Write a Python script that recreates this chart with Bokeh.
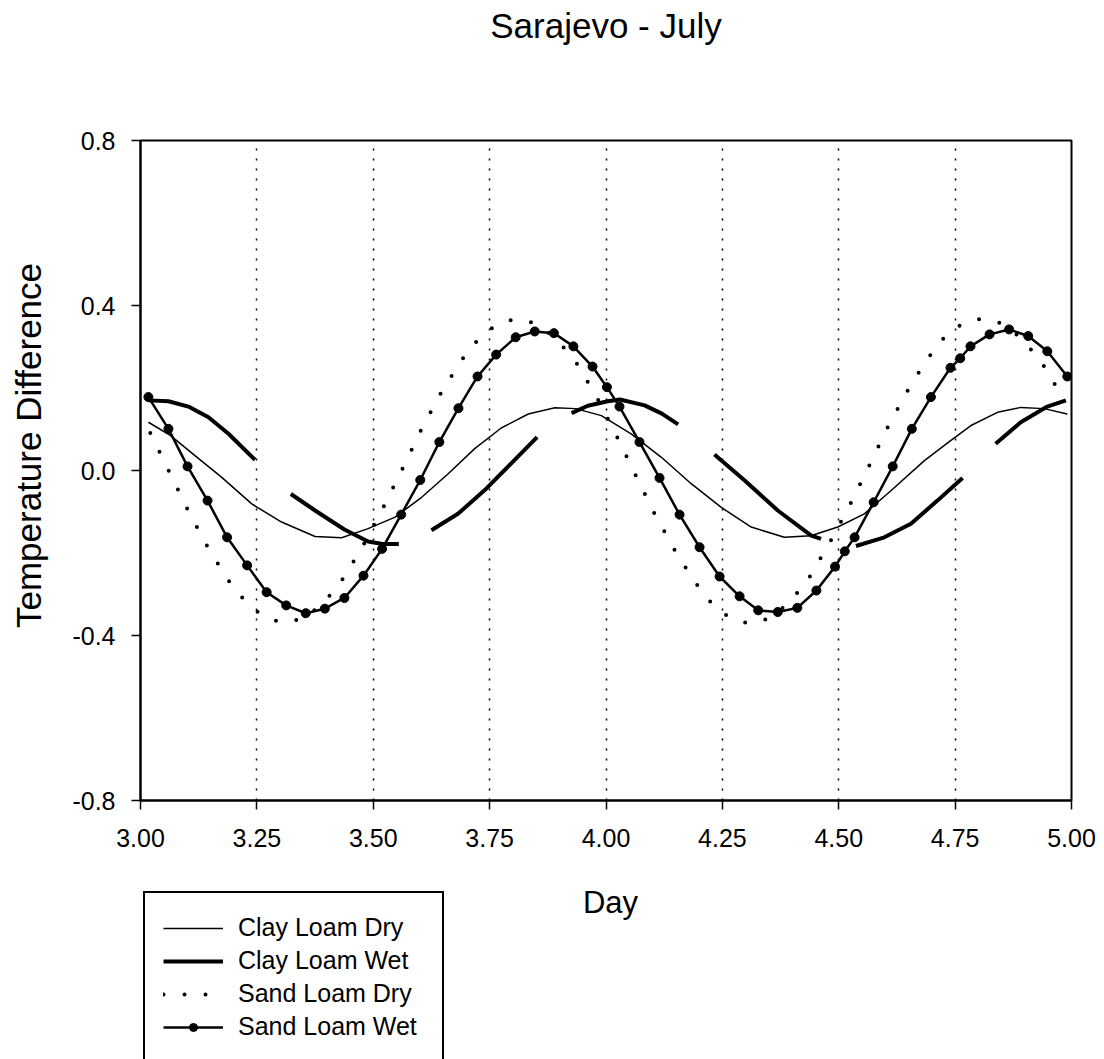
import math

from bokeh.plotting import figure
from bokeh.layouts import column, row
from bokeh.models import (Range1d, FixedTicker, NumeralTickFormatter, Legend, LegendItem,
                          LinearAxis, Label)
from bokeh.embed import file_html
from bokeh.resources import INLINE

nan = float("nan")

# Clay loam, dry soil (thin line)
clay_dry_day = [3.017, 3.064, 3.117, 3.174, 3.239, 3.303, 3.375, 3.432, 3.489, 3.547,
                3.604, 3.661, 3.718, 3.775, 3.833, 3.890, 3.935, 3.990, 4.054, 4.119,
                4.183, 4.247, 4.312, 4.383, 4.440, 4.498, 4.555, 4.612, 4.684, 4.741,
                4.784, 4.841, 4.891, 4.941, 4.991]
clay_dry_val = [0.117, 0.085, 0.036, -0.016, -0.081, -0.125, -0.160, -0.163, -0.141, -0.113,
                -0.065, -0.008, 0.053, 0.103, 0.137, 0.152, 0.150, 0.133, 0.089, 0.032,
                -0.032, -0.089, -0.137, -0.162, -0.158, -0.137, -0.105, -0.049, 0.024, 0.073,
                0.109, 0.141, 0.153, 0.150, 0.137]

# Clay loam, wet soil (thick line, drawn in separate runs)
clay_wet_day = [3.017, 3.060, 3.103, 3.146, 3.189, 3.246, nan,
                3.323, 3.375, 3.438, 3.489, 3.520, 3.555, nan,
                3.625, 3.682, 3.739, 3.797, 3.852, nan,
                3.926, 3.961, 4.004, 4.030, 4.083, 4.120, 4.155, nan,
                4.233, 4.298, 4.369, 4.441, 4.462, nan,
                4.537, 4.598, 4.655, 4.712, 4.766, nan,
                4.837, 4.891, 4.948, 4.988]
clay_wet_val = [0.170, 0.168, 0.155, 0.129, 0.089, 0.026, nan,
                -0.057, -0.097, -0.143, -0.172, -0.178, -0.178, nan,
                -0.145, -0.105, -0.048, 0.018, 0.081, nan,
                0.139, 0.157, 0.168, 0.172, 0.158, 0.138, 0.112, nan,
                0.039, -0.024, -0.097, -0.158, -0.166, nan,
                -0.183, -0.162, -0.129, -0.073, -0.018, nan,
                0.065, 0.117, 0.155, 0.170]

# Sand loam, dry soil (dotted line)
sand_dry_day = [3.021, 3.063, 3.104, 3.146, 3.188, 3.229, 3.271, 3.313, 3.354, 3.396,
                3.438, 3.479, 3.521, 3.563, 3.604, 3.646, 3.688, 3.729, 3.771, 3.813,
                3.854, 3.896, 3.938, 3.979, 4.021, 4.063, 4.104, 4.146, 4.188, 4.229,
                4.271, 4.313, 4.354, 4.396, 4.438, 4.479, 4.521, 4.563, 4.604, 4.646,
                4.688, 4.729, 4.771, 4.813, 4.854, 4.896, 4.938, 4.979]
sand_dry_val = [0.091, -0.006, -0.101, -0.189, -0.265, -0.323, -0.359, -0.370, -0.356, -0.318,
                -0.258, -0.180, -0.091, 0.005, 0.101, 0.189, 0.265, 0.323, 0.359, 0.368,
                0.354, 0.316, 0.258, 0.180, 0.088, -0.010, -0.104, -0.190, -0.266, -0.325,
                -0.362, -0.372, -0.357, -0.318, -0.257, -0.178, -0.090, 0.006, 0.102, 0.190,
                0.267, 0.326, 0.360, 0.369, 0.355, 0.317, 0.258, 0.181]

# Sand loam, wet soil (line with markers)
sand_wet_day = [3.017, 3.060, 3.101, 3.144, 3.186, 3.229, 3.271, 3.313, 3.355, 3.396,
                3.438, 3.479, 3.519, 3.560, 3.601, 3.642, 3.683, 3.724, 3.764, 3.806,
                3.847, 3.888, 3.930, 3.971, 4.002, 4.029, 4.072, 4.115, 4.158, 4.201,
                4.244, 4.287, 4.327, 4.369, 4.411, 4.452, 4.492, 4.513, 4.534, 4.575,
                4.616, 4.657, 4.698, 4.740, 4.761, 4.783, 4.824, 4.866, 4.907, 4.948,
                4.991]
sand_wet_val = [0.178, 0.101, 0.010, -0.073, -0.162, -0.230, -0.295, -0.327, -0.346, -0.335,
                -0.309, -0.255, -0.190, -0.107, -0.023, 0.069, 0.151, 0.228, 0.281, 0.323,
                0.337, 0.333, 0.301, 0.252, 0.202, 0.155, 0.069, -0.018, -0.107, -0.186,
                -0.257, -0.305, -0.339, -0.343, -0.333, -0.291, -0.233, -0.196, -0.162, -0.077,
                0.010, 0.101, 0.178, 0.249, 0.272, 0.301, 0.330, 0.342, 0.326, 0.289,
                0.228]

series_names = ["Clay Loam Dry", "Clay Loam Wet", "Sand Loam Dry", "Sand Loam Wet"]

x_ticks = [3.0, 3.25, 3.5, 3.75, 4.0, 4.25, 4.5, 4.75, 5.0]
grid_ticks = [3.25, 3.5, 3.75, 4.0, 4.25, 4.5, 4.75]
y_ticks = [-0.8, -0.4, 0.0, 0.4, 0.8]

FONT = "Liberation Sans"

# line styles shared by the chart and the key
STYLE_CLAY_DRY = dict(line_color="black", line_width=1.5)
STYLE_CLAY_WET = dict(line_color="black", line_width=4)
STYLE_SAND_DRY = dict(line_color="black", line_width=4, line_dash="0 21", line_cap="round")
STYLE_SAND_WET = dict(line_color="black", line_width=2.5)
STYLE_SAND_WET_MARK = dict(marker="circle", size=9, fill_color="black", line_color="black")

FRAME_TOP = 140
FRAME_H = 660
TOP_H = 874       # height of the row holding the chart
BOTTOM_H = 185    # strip below it with the x label and the key
YLAB_W = 60       # strip on the left with the y label
LEFT = 140        # left edge of the plotting frame
RIGHT_PAD = 33
FRAME_W = 931
TOTAL_W = LEFT + FRAME_W + RIGHT_PAD


def draw_series(fig):
    fig.line(clay_dry_day, clay_dry_val, **STYLE_CLAY_DRY)
    fig.line(clay_wet_day, clay_wet_val, **STYLE_CLAY_WET)
    fig.line(sand_dry_day, sand_dry_val, **STYLE_SAND_DRY)
    fig.line(sand_wet_day, sand_wet_val, **STYLE_SAND_WET)
    fig.scatter(sand_wet_day, sand_wet_val, **STYLE_SAND_WET_MARK)
    return fig.renderers[-5:]


# ---------------------------------------------------------------- main chart
p = figure(frame_width=FRAME_W, frame_height=FRAME_H,
           min_border_left=LEFT - YLAB_W, min_border_right=RIGHT_PAD,
           min_border_top=FRAME_TOP, min_border_bottom=TOP_H - FRAME_TOP - FRAME_H,
           x_range=Range1d(3.0, 5.0), y_range=Range1d(-0.8, 0.8),
           output_backend="svg", toolbar_location=None)

p.background_fill_color = "white"
p.border_fill_color = "white"
p.outline_line_color = "black"
p.outline_line_width = 2

for ax in (p.xaxis[0], p.yaxis[0]):
    ax.axis_line_width = 2
    ax.axis_line_color = "black"
    ax.major_tick_line_width = 1.5
    ax.major_tick_line_color = "black"
    ax.major_tick_out = 9
    ax.major_tick_in = 0
    ax.minor_tick_out = 0
    ax.minor_tick_in = 0
    ax.major_label_text_font = FONT
    ax.major_label_text_font_size = "25px"
    ax.major_label_text_color = "black"

p.xaxis.ticker = FixedTicker(ticks=x_ticks)
p.xaxis.formatter = NumeralTickFormatter(format="0.00")
p.xaxis.major_label_standoff = 19

p.yaxis.ticker = FixedTicker(ticks=y_ticks)
p.yaxis.formatter = NumeralTickFormatter(format="0.0")
p.yaxis.major_label_standoff = 16

# tickless axis on top that carries the chart heading
head = LinearAxis(ticker=FixedTicker(ticks=[]), axis_label="Sarajevo - July",
                  axis_label_standoff=96, axis_line_color=None,
                  major_tick_line_color=None, minor_tick_line_color=None,
                  major_tick_out=0, major_tick_in=0, minor_tick_out=0, minor_tick_in=0,
                  major_label_standoff=0)
head.axis_label_text_font = FONT
head.axis_label_text_font_size = "35px"
head.axis_label_text_font_style = "normal"
head.axis_label_text_color = "black"
p.add_layout(head, "above")

p.xgrid.ticker = FixedTicker(ticks=grid_ticks)
p.xgrid.grid_line_color = "black"
p.xgrid.grid_line_width = 1.5
p.xgrid.grid_line_dash = "2 8"
p.ygrid.visible = False

draw_series(p)

# ---------------------------------------------------------------- y label strip
# same vertical structure as the chart, so the two frames line up
ylab = figure(frame_width=YLAB_W, frame_height=FRAME_H,
              min_border_left=0, min_border_right=0,
              min_border_top=FRAME_TOP, min_border_bottom=TOP_H - FRAME_TOP - FRAME_H,
              x_range=Range1d(0, YLAB_W), y_range=Range1d(0, FRAME_H),
              x_axis_type=None, y_axis_type=None,
              output_backend="svg", toolbar_location=None)
ylab.outline_line_color = None
ylab.grid.visible = False
ylab.background_fill_color = "white"
ylab.border_fill_color = "white"
ylab.add_layout(Label(x=28, y=FRAME_TOP + FRAME_H - 445, text="Temperature Difference",
                      angle=math.pi / 2, text_align="center", text_baseline="middle",
                      text_font=FONT, text_font_size="35px", text_color="black"))

# ---------------------------------------------------------------- x label + key strip
# the series are drawn again on a y range above their values, so only the key shows them
key = figure(frame_width=TOTAL_W, frame_height=BOTTOM_H,
             min_border_left=0, min_border_right=0, min_border_top=0, min_border_bottom=0,
             x_range=Range1d(3.0, 5.0), y_range=Range1d(1.0, 2.0),
             x_axis_type=None, y_axis_type=None,
             output_backend="svg", toolbar_location=None)
key.outline_line_color = None
key.grid.visible = False
key.background_fill_color = "white"
key.border_fill_color = "white"
key.add_layout(Label(x=610, y=BOTTOM_H - 28, x_units="screen", y_units="screen", text="Day",
                     text_align="center", text_baseline="alphabetic",
                     text_font=FONT, text_font_size="31px", text_color="black"))

k_cd, k_cw, k_sd, k_sw, k_swm = draw_series(key)

legend = Legend(
    items=[
        LegendItem(label=series_names[0], renderers=[k_cd]),
        LegendItem(label=series_names[1], renderers=[k_cw]),
        LegendItem(label=series_names[2], renderers=[k_sd]),
        LegendItem(label=series_names[3], renderers=[k_sw, k_swm]),
    ],
    location=(143, -4),
    label_text_font=FONT,
    label_text_font_size="25px",
    label_text_color="black",
    glyph_width=60,
    glyph_height=20,
    label_height=33,
    label_width=186,
    label_standoff=15,
    padding=18,
    spacing=0,
    margin=0,
    border_line_color="black",
    border_line_alpha=1.0,
    border_line_width=2,
    background_fill_color="white",
    background_fill_alpha=1.0,
)
key.add_layout(legend, "center")

layout = column(row(ylab, p, spacing=0), key, spacing=0)

open("out.html", "w").write(file_html(layout, INLINE))
